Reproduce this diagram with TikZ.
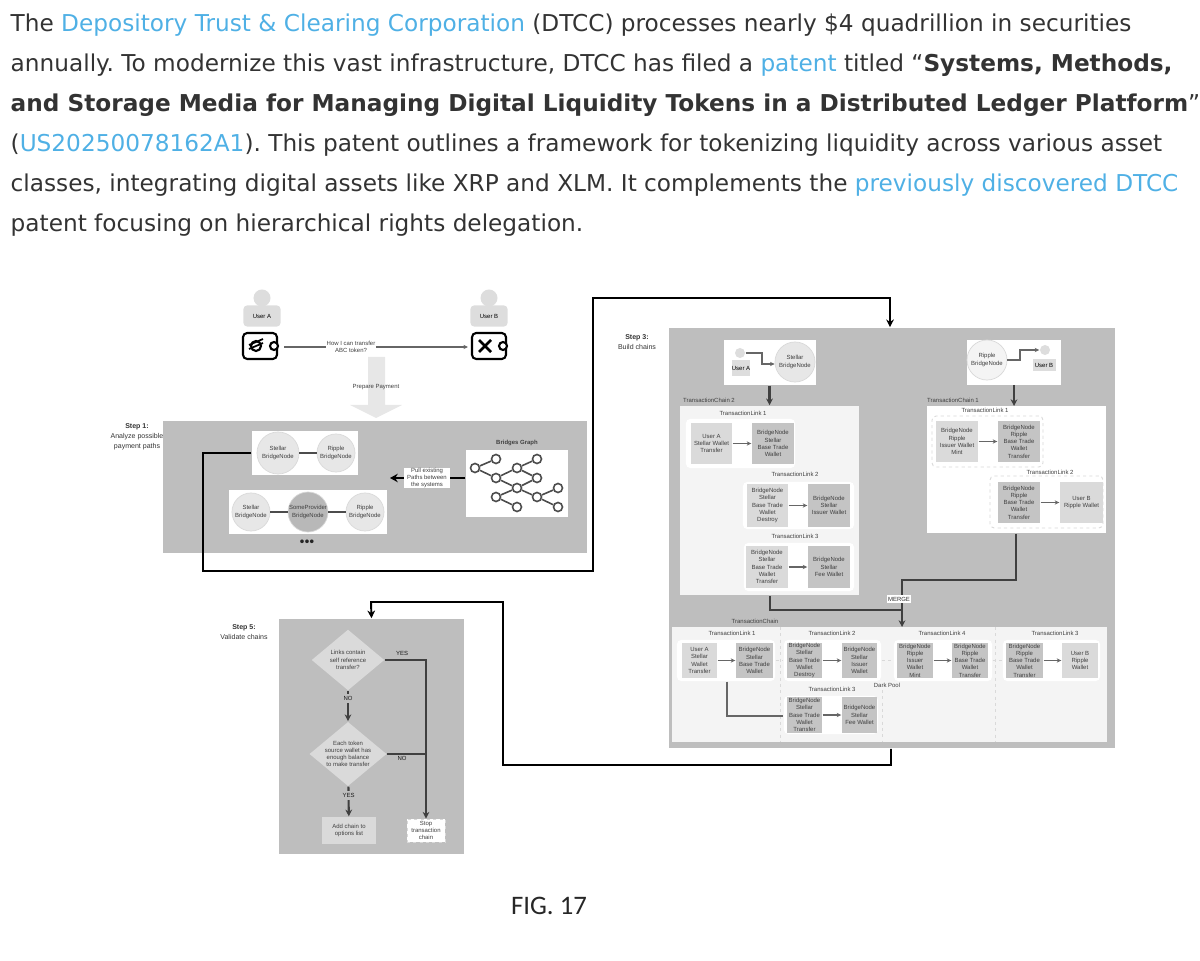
\documentclass[tikz,border=0pt]{standalone}
\usepackage{fontspec}
\setmainfont{DejaVu Sans}
\newfontfamily\diagfont{Liberation Sans}
\newfontfamily\figfont{Carlito}
\usetikzlibrary{shapes.geometric,arrows.meta}
\definecolor{linkblue}{HTML}{4FB0E5}
\definecolor{bodytext}{HTML}{333333}
\definecolor{panelgray}{HTML}{BEBEBE}
\definecolor{paleboxgray}{HTML}{DADADA}
\definecolor{darkboxgray}{HTML}{C4C4C4}
\definecolor{chainwhite}{HTML}{F4F4F4}
\definecolor{usergray}{HTML}{DDDDDD}
\newcommand{\lk}[1]{\textcolor{linkblue}{#1}}
\newcommand{\diag}{\diagfont\fontsize{1.7}{2.05}\selectfont}
\newcommand{\steptext}{\diagfont\fontsize{2.0}{2.8}\selectfont}
\frenchspacing
\tikzset{
  textline/.style={anchor=west,inner sep=0,text=bodytext,font=\fontsize{6.6}{7}\selectfont},
  panel/.style={fill=panelgray,inner sep=0},
  chainrect/.style={fill=chainwhite,inner sep=0},
  whitebox/.style={fill=white,inner sep=0},
  linkrect/.style={fill=white,rounded corners=1.2pt,inner sep=0},
  palebox/.style={fill=paleboxgray,inner sep=0,align=center,font=\diag,text=black!75},
  darkbox/.style={fill=darkboxgray,inner sep=0,align=center,font=\diag,text=black!75},
  lbl/.style={inner sep=0,align=center,font=\diag,text=black!75},
  steplbl/.style={inner sep=0,align=center,font=\steptext,text=black!80},
  bridge/.style={circle,fill=paleboxgray!65,draw=white!85!black,line width=.2pt,inner sep=0,align=center,font=\diag,text=black!75},
  gnode/.style={circle,draw=black!70,fill=white,line width=.45pt,minimum size=.09cm,inner sep=0},
  wire/.style={draw=black!60,line width=.3pt,-{Stealth[length=1.3pt,width=1.2pt]}},
  heavy/.style={draw=black!75,line width=.6pt,-{Stealth[length=1.9pt,width=1.9pt]}},
  bigline/.style={draw=black,line width=.55pt,-{Stealth[length=2.2pt,width=2.2pt]}},
  paledash/.style={draw=black!15,line width=.25pt,dash pattern=on .9pt off .9pt},
  decide/.style={diamond,fill=paleboxgray,inner sep=0,aspect=1.2,align=center,font=\diag,text=black!75},
}
\begin{document}
\begin{tikzpicture}[x=0.01cm,y=-0.01cm]
  \useasboundingbox (0,0) rectangle (1200,961);
  % header text
  \node[textline] (line1) at (10,25) {The \lk{Depository Trust \& Clearing Corporation} (DTCC) processes nearly \$4 quadrillion in securities};
  \node[textline] (line2) at (10,65) {annually. To modernize this vast infrastructure, DTCC has filed a \lk{patent} titled ``\textbf{Systems, Methods,}};
  \node[textline] (line3) at (10,105) {\textbf{and Storage Media for Managing Digital Liquidity Tokens in a Distributed Ledger Platform}''};
  \node[textline] (line4) at (10,145) {(\lk{US20250078162A1}). This patent outlines a framework for tokenizing liquidity across various asset};
  \node[textline] (line5) at (10,185) {classes, integrating digital assets like XRP and XLM. It complements the \lk{previously discovered DTCC}};
  \node[textline] (line6) at (10,225) {patent focusing on hierarchical rights delegation.};

  % users and wallets
  \node[circle,fill=usergray,minimum size=.17cm,inner sep=0] (headA) at (262,298) {};
  \node[fill=usergray,rounded corners=1pt,minimum width=.37cm,minimum height=.21cm,inner sep=0,font=\diag] (bodyA) at (262,316) {User A};
  \node[circle,fill=usergray,minimum size=.17cm,inner sep=0] (headB) at (489,298) {};
  \node[fill=usergray,rounded corners=1pt,minimum width=.37cm,minimum height=.21cm,inner sep=0,font=\diag] (bodyB) at (489,316) {User B};
  \node[draw=black,line width=.6pt,rounded corners=1.2pt,minimum width=.34cm,minimum height=.26cm,inner sep=0] (walletA) at (260,346) {};
  \node[draw=black,line width=.6pt,rounded corners=1.2pt,minimum width=.34cm,minimum height=.26cm,inner sep=0] (walletB) at (489,346) {};
  \node[circle,draw=black,fill=white,line width=.6pt,minimum size=.08cm,inner sep=0] (claspA) at (274,346) {};
  \node[circle,draw=black,fill=white,line width=.6pt,minimum size=.08cm,inner sep=0] (claspB) at (503,346) {};
  \draw[line width=.6pt] (256,346) circle (5);
  \draw[line width=.5pt] (249,349) -- (263,343);
  \draw[line width=.5pt] (249,345) -- (263,339);
  \draw[line width=.8pt] (479,340) -- (491,352);
  \draw[line width=.8pt] (491,340) -- (479,352);
  \node[lbl] (howto) at (351,347) {How I can transfer\\ABC token?};
  \coordinate (walletAout) at (284,347);
  \coordinate (walletBin) at (468,347);
  \draw[draw=black!60,line width=.3pt] (walletAout) -- (howto);
  \draw[wire] (howto) -- (walletBin);
  \fill[usergray!70] (368,357) -- (385,357) -- (385,405) -- (402,405) -- (376,418) -- (350,405) -- (368,405) -- cycle;
  \node[lbl] (prepare) at (376,387) {Prepare Payment};

  % step 1
  \node[panel,minimum width=4.24cm,minimum height=1.32cm] (stepOne) at (375,487) {};
  \node[steplbl] (stepOneLabel) at (137,437) {\textbf{Step 1:}\\Analyze possible\\payment paths};
  \node[whitebox,minimum width=1.06cm,minimum height=.44cm] (pathOne) at (305,453) {};
  \node[whitebox,minimum width=1.57cm,minimum height=.44cm] (pathTwo) at (308,512) {};
  \node[bridge,minimum size=.42cm] (stellarOne) at (278,453) {Stellar\\BridgeNode};
  \node[bridge,minimum size=.38cm] (rippleOne) at (336,453) {Ripple\\BridgeNode};
  \draw[draw=black!70,line width=.3pt] (stellarOne) -- (rippleOne);
  \node[bridge,minimum size=.38cm] (stellarTwo) at (251,512) {Stellar\\BridgeNode};
  \node[bridge,fill=black!28,minimum size=.40cm] (someTwo) at (308,512) {SomeProvider\\BridgeNode};
  \node[bridge,minimum size=.38cm] (rippleTwo) at (365,512) {Ripple\\BridgeNode};
  \draw[draw=black!70,line width=.3pt] (stellarTwo) -- (someTwo) -- (rippleTwo);
  \node[inner sep=0,font=\fontsize{3.6}{4}\selectfont,text=black!85] (moreDots) at (307,543) {•\kern-.2em•\kern-.2em•};
  \node[lbl] (graphTitle) at (517,443) {\textbf{Bridges Graph}};
  \node[whitebox,minimum width=1.02cm,minimum height=.67cm] (graphBox) at (517,483.5) {};
  \foreach \name/\px/\py in {ga/475/468,gb/496/459,gc/496/478,gd/517/468,ge/537/459,gf/537/478,gg/517/488,gh/496/497,gi/517/507,gj/537/497,gk/558/488,gl/558/507}
    \node[gnode] (\name) at (\px,\py) {};
  \foreach \from/\to in {ga/gb,ga/gc,gc/gd,gd/ge,gd/gf,gc/gg,gg/gf,gg/gh,gg/gj,gh/gi,gj/gk,gj/gl}
    \draw[draw=black!70,line width=.45pt] (\from) -- (\to);
  \coordinate (pullEnd) at (390,478);
  \node[whitebox,minimum width=.45cm,minimum height=.20cm,align=center,font=\diag,text=black!75] (pullLabel) at (427,478) {Pull existing\\Paths between\\the systems};
  \draw[draw=black,line width=.7pt] (graphBox.west |- pullLabel) -- (pullLabel);
  \draw[draw=black,line width=.7pt,-{Stealth[length=2.2pt,width=2.4pt]}] (pullLabel) -- (pullEnd);

  % step 3
  \node[panel,minimum width=4.46cm,minimum height=4.20cm] (stepThree) at (892,538) {};
  \node[steplbl] (stepThreeLabel) at (637,342) {\textbf{Step 3:}\\Build chains};
  \coordinate (cornerA) at (203,571);
  \coordinate (cornerB) at (593,571);
  \coordinate (cornerC) at (593,298);
  \coordinate (cornerD) at (890,298);
  \draw[bigline] (pathOne.west) -| (cornerA) -- (cornerB) -- (cornerC) -- (cornerD) -- (stepThree.north -| cornerD);

  \node[whitebox,minimum width=.92cm,minimum height=.45cm] (startLeft) at (770,362.5) {};
  \node[circle,fill=usergray!70,draw=white!85!black,line width=.2pt,minimum size=.40cm,inner sep=0,align=center,font=\diag,text=black!75] (stellarTop) at (795,362) {Stellar\\BridgeNode};
  \node[circle,fill=usergray,minimum size=.10cm,inner sep=0] (headLeft) at (740,353) {};
  \node[fill=usergray,minimum width=.18cm,minimum height=.16cm,inner sep=0,font=\diag] (bodyLeft) at (741,368) {User A};
  \coordinate (bendLeftA) at (762,353);
  \coordinate (bendLeftB) at (762,364);
  \draw[wire] (headLeft) -- (bendLeftA) -- (bendLeftB) -- (stellarTop.west |- bendLeftB);

  \node[whitebox,minimum width=.94cm,minimum height=.45cm] (startRight) at (1014,362.5) {};
  \node[circle,fill=chainwhite,draw=white!85!black,line width=.2pt,minimum size=.40cm,inner sep=0,align=center,font=\diag,text=black!75] (rippleTop) at (987,360) {Ripple\\BridgeNode};
  \node[circle,fill=usergray,minimum size=.10cm,inner sep=0] (headRight) at (1045,350) {};
  \node[fill=usergray,minimum width=.23cm,minimum height=.11cm,inner sep=0,font=\diag] (bodyRight) at (1044,365) {User B};
  \coordinate (bendRightA) at (1020,360);
  \coordinate (bendRightB) at (1020,350);
  \draw[wire] (rippleTop) -- (bendRightA) -- (bendRightB) -- (headRight.west |- bendRightB);

  % chain 2 on the left
  \node[chainrect,minimum width=1.79cm,minimum height=1.89cm] (chainTwo) at (769.5,500.5) {};
  \node[lbl] (chainTwoLabel) at (709,400) {TransactionChain 2};
  \draw[heavy] (startLeft.south -| chainTwo) -- (chainTwo.north);
  \node[lbl] (topLinkA) at (743,413) {TransactionLink 1};
  \node[linkrect,minimum width=1.09cm,minimum height=.49cm] (rectA) at (740.5,443.5) {};
  \node[palebox,minimum width=.41cm,minimum height=.41cm] (a1) at (711.5,443.5) {User A\\Stellar Wallet\\Transfer};
  \node[darkbox,minimum width=.42cm,minimum height=.41cm] (a2) at (773,443.5) {BridgeNode\\Stellar\\Base Trade\\Wallet};
  \draw[wire] (a1) -- (a2);
  \node[lbl] (topLinkB) at (795,474) {TransactionLink 2};
  \node[linkrect,minimum width=1.11cm,minimum height=.47cm] (rectB) at (798.5,505.5) {};
  \node[palebox,minimum width=.41cm,minimum height=.43cm] (b1) at (767.5,505.5) {BridgeNode\\Stellar\\Base Trade\\Wallet\\Destroy};
  \node[darkbox,minimum width=.42cm,minimum height=.43cm] (b2) at (829,505.5) {BridgeNode\\Stellar\\Issuer Wallet};
  \draw[wire] (b1) -- (b2);
  \node[lbl] (topLinkC) at (795,536) {TransactionLink 3};
  \node[linkrect,minimum width=1.10cm,minimum height=.48cm] (rectC) at (799,567) {};
  \node[palebox,minimum width=.42cm,minimum height=.42cm] (c1) at (767,567) {BridgeNode\\Stellar\\Base Trade\\Wallet\\Transfer};
  \node[darkbox,minimum width=.42cm,minimum height=.42cm] (c2) at (829,567) {BridgeNode\\Stellar\\Fee Wallet};
  \draw[wire] (c1) -- (c2);

  % chain 1 on the right
  \node[chainrect,fill=white,minimum width=1.79cm,minimum height=1.27cm] (chainOne) at (1016.5,469.5) {};
  \node[lbl] (chainOneLabel) at (953,400) {TransactionChain 1};
  \coordinate (startRightOut) at (1014,385);
  \coordinate (chainOneIn) at (1014,406);
  \draw[heavy] (startRightOut) -- (chainOneIn);
  \node[lbl] (topLinkD) at (985,410) {TransactionLink 1};
  \node[linkrect,paledash,minimum width=1.11cm,minimum height=.51cm] (rectD) at (987.5,441.5) {};
  \node[palebox,minimum width=.42cm,minimum height=.41cm] (d1) at (957,441.5) {BridgeNode\\Ripple\\Issuer Wallet\\Mint};
  \node[darkbox,minimum width=.42cm,minimum height=.41cm] (d2) at (1019,441.5) {BridgeNode\\Ripple\\Base Trade\\Wallet\\Transfer};
  \draw[wire] (d1) -- (d2);
  \node[lbl] (topLinkE) at (1050,472) {TransactionLink 2};
  \node[linkrect,paledash,minimum width=1.13cm,minimum height=.52cm] (rectE) at (1046.5,502) {};
  \node[darkbox,minimum width=.42cm,minimum height=.41cm] (e1) at (1019,502.5) {BridgeNode\\Ripple\\Base Trade\\Wallet\\Transfer};
  \node[palebox,minimum width=.43cm,minimum height=.41cm] (e2) at (1081.5,502.5) {User B\\Ripple Wallet};
  \draw[wire] (e1) -- (e2);

  % merged chain
  \node[chainrect,minimum width=4.35cm,minimum height=1.15cm] (chainMerged) at (889.5,684.5) {};
  \node[lbl] (chainMergedLabel) at (755,621) {TransactionChain};
  \coordinate (dashTopA) at (780,627);
  \coordinate (dashBotA) at (780,742);
  \coordinate (dashTopB) at (882,690);
  \coordinate (dashBotB) at (882,742);
  \coordinate (dashTopC) at (995,627);
  \coordinate (dashBotC) at (995,742);
  \draw[paledash] (dashTopA) -- (dashBotA);
  \draw[paledash] (dashTopB) -- (dashBotB);
  \draw[paledash] (dashTopC) -- (dashBotC);

  \node[lbl] (linkOneLabel) at (732,633) {TransactionLink 1};
  \node[linkrect,minimum width=.98cm,minimum height=.41cm] (rectF) at (726,660.5) {};
  \node[palebox,minimum width=.35cm,minimum height=.35cm] (f1) at (699.5,660.5) {User A\\Stellar\\Wallet\\Transfer};
  \node[darkbox,minimum width=.37cm,minimum height=.35cm] (f2) at (754.5,660.5) {BridgeNode\\Stellar\\Base Trade\\Wallet};
  \draw[wire] (f1) -- (f2);
  \node[lbl] (linkTwoLabel) at (832,633) {TransactionLink 2};
  \node[linkrect,minimum width=.97cm,minimum height=.41cm] (rectG) at (832.5,660.5) {};
  \node[darkbox,minimum width=.35cm,minimum height=.35cm] (g1) at (804.5,660.5) {BridgeNode\\Stellar\\Base Trade\\Wallet\\Destroy};
  \node[darkbox,minimum width=.35cm,minimum height=.35cm] (g2) at (859.5,660.5) {BridgeNode\\Stellar\\Issuer\\Wallet};
  \draw[wire] (g1) -- (g2);
  \node[lbl] (linkFourLabel) at (942,633) {TransactionLink 4};
  \node[linkrect,minimum width=.98cm,minimum height=.41cm] (rectH) at (943,660.5) {};
  \node[darkbox,minimum width=.36cm,minimum height=.35cm] (h1) at (915,660.5) {BridgeNode\\Ripple\\Issuer\\Wallet\\Mint};
  \node[darkbox,minimum width=.36cm,minimum height=.35cm] (h2) at (970,660.5) {BridgeNode\\Ripple\\Base Trade\\Wallet\\Transfer};
  \draw[wire] (h1) -- (h2);
  \node[lbl] (linkThreeLabel) at (1055,633) {TransactionLink 3};
  \node[linkrect,minimum width=.97cm,minimum height=.41cm] (rectI) at (1051.5,660.5) {};
  \node[darkbox,minimum width=.37cm,minimum height=.35cm] (i1) at (1024.5,660.5) {BridgeNode\\Ripple\\Base Trade\\Wallet\\Transfer};
  \node[palebox,minimum width=.36cm,minimum height=.35cm] (i2) at (1080,660.5) {User B\\Ripple\\Wallet};
  \draw[wire] (i1) -- (i2);
  \draw[paledash] (rectF) -- (rectG);
  \draw[paledash] (rectG) -- (rectH);
  \draw[paledash] (rectH) -- (rectI);
  \node[lbl,fill=chainwhite,inner sep=.2pt] (darkPool) at (887,685) {Dark Pool};
  \node[lbl,fill=chainwhite] (linkFiveLabel) at (832,689) {TransactionLink 3};
  \node[linkrect,minimum width=.94cm,minimum height=.38cm] (rectJ) at (831,715) {};
  \node[darkbox,minimum width=.35cm,minimum height=.36cm] (j1) at (804.5,715) {BridgeNode\\Stellar\\Base Trade\\Wallet\\Transfer};
  \node[darkbox,minimum width=.35cm,minimum height=.36cm] (j2) at (859.5,715) {BridgeNode\\Stellar\\Fee Wallet};
  \draw[wire] (j1) -- (j2);
  \coordinate (fiveBend) at (727,716);
  \draw[draw=black!60,line width=.35pt] (rectF.south -| fiveBend) -- (fiveBend) -- (rectJ.west |- fiveBend);

  % merge
  \coordinate (mergeTopBend) at (1016,580);
  \coordinate (mergeTopJoin) at (902,580);
  \coordinate (mergeLeftBend) at (770,610);
  \coordinate (mergeLeftJoin) at (902,610);
  \coordinate (mergeIn) at (902,627);
  \draw[draw=black!75,line width=.6pt] (chainTwo.south -| mergeLeftBend) -- (mergeLeftBend) -- (mergeLeftJoin);
  \draw[heavy] (chainOne.south -| mergeTopBend) -- (mergeTopBend) -- (mergeTopJoin) -- (mergeIn);
  \node[fill=white,inner sep=.4pt,font=\diag,text=black!80] (mergeLabel) at (899,599) {MERGE};

  % step 5
  \node[panel,minimum width=1.85cm,minimum height=2.35cm] (stepFive) at (371.5,736.5) {};
  \node[steplbl] (stepFiveLabel) at (244,632) {\textbf{Step 5:}\\Validate chains};
  \coordinate (backA) at (891,765);
  \coordinate (backB) at (503,765);
  \coordinate (backC) at (503,602);
  \coordinate (backD) at (371,602);
  \draw[bigline] (stepThree.south -| backA) -- (backA) -- (backB) -- (backC) -- (backD) -- (stepFive.north);
  \node[decide,minimum width=.73cm,minimum height=.61cm] (askLoop) at (348,660) {Links contain\\self reference\\transfer?};
  \node[decide,minimum width=.75cm,minimum height=.64cm] (askFunds) at (348,754) {Each token\\source wallet has\\enough balance\\to make transfer};
  \node[palebox,minimum width=.54cm,minimum height=.27cm] (addChain) at (349,830.5) {Add chain to\\options list};
  \node[whitebox,paledash,minimum width=.38cm,minimum height=.23cm,align=center,font=\diag,text=black!75] (stopChain) at (426,830.5) {Stop\\transaction\\chain};
  \draw[heavy] (askLoop) -- (askFunds) node[lbl,fill=panelgray,inner sep=.6pt,pos=.25,text=black!90] (noOne) {NO};
  \draw[heavy] (askFunds) -- (addChain) node[lbl,fill=panelgray,inner sep=.6pt,pos=.3,text=black!90] (yesTwo) {YES};
  \draw[heavy] (askLoop.east) -| (stopChain.north);
  \draw[draw=black!75,line width=.6pt] (askFunds.east) -- (askFunds.east -| stopChain);
  \node[lbl,text=black!90] (yesOne) at (402,653) {YES};
  \node[lbl,text=black!90] (noTwo) at (402,758) {NO};

  \node[inner sep=0,text=black!85,font=\figfont\fontsize{7.6}{9}\selectfont] (figLabel) at (549,906) {FIG. 17};
\end{tikzpicture}
\end{document}
